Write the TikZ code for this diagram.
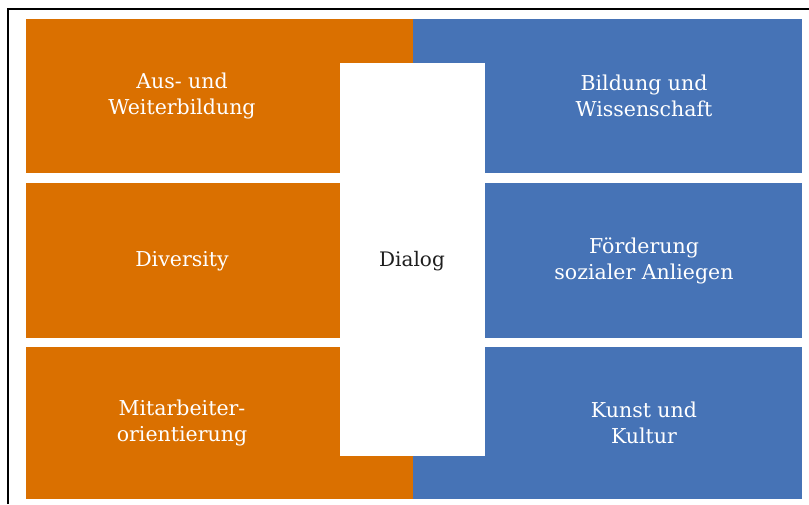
\documentclass[tikz,border=0pt]{standalone}
\usepackage{fontspec}
\setmainfont{DejaVu Serif}
\definecolor{orng}{RGB}{218,112,0}
\definecolor{blu}{RGB}{70,115,182}
\definecolor{dlgtext}{RGB}{30,30,30}
\begin{document}
\begin{tikzpicture}[x=1pt,y=-1pt,
  lbl/.style={align=center,text=white,font=\fontsize{20.5}{26.5}\selectfont,inner sep=0pt},
  dlg/.style={align=center,text=dlgtext,font=\fontsize{20}{26}\selectfont,inner sep=0pt}]
\useasboundingbox (0,0) rectangle (809,504);
% frame (cropped)
\draw[line width=2pt,black] (8,504) -- (8,9) -- (809,9);
% orange blocks
\fill[orng] (26,19) rectangle (413,173);
\fill[orng] (26,183) rectangle (413,338);
\fill[orng] (26,347) rectangle (413,499);
% blue blocks
\fill[blu] (413,19) rectangle (802,173);
\fill[blu] (413,183) rectangle (802,338);
\fill[blu] (413,347) rectangle (802,499);
% central dialog box
\fill[white] (340,63) rectangle (485,456);
% labels
\node[lbl] (aus) at (182,96) {Aus- und\\Weiterbildung};
\node[lbl] (div) at (182,261) {Diversity};
\node[lbl] (mit) at (182,423) {Mitarbeiter-\\orientierung};
\node[lbl] (bil) at (644,96) {Bildung und\\Wissenschaft};
\node[lbl] (foe) at (644,261) {Förderung\\sozialer Anliegen};
\node[lbl] (kun) at (644,423) {Kunst und\\Kultur};
\node[dlg] (dia) at (412,261) {Dialog};
\end{tikzpicture}
\end{document}
